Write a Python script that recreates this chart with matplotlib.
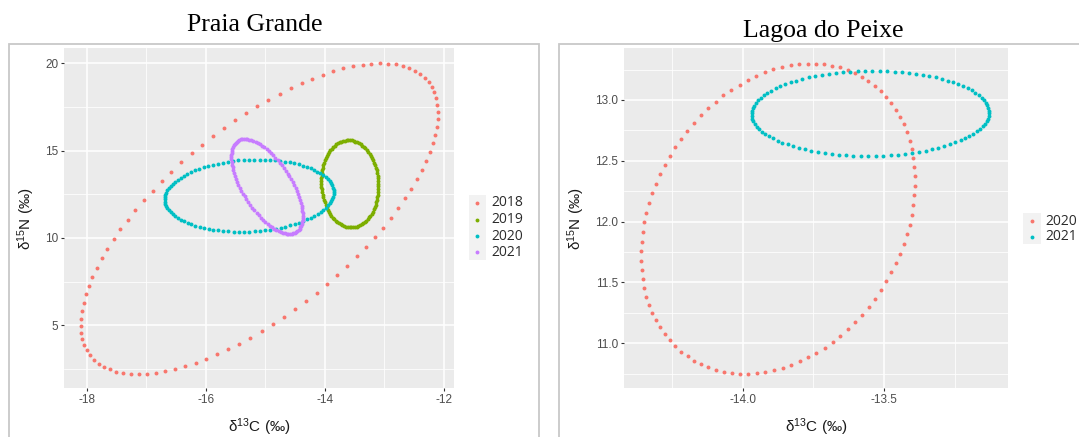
import numpy as np
import matplotlib
matplotlib.use("Agg")
import matplotlib.pyplot as plt
from matplotlib.patches import Rectangle

plt.rcParams['font.family'] = ['Liberation Sans', 'DejaVu Sans']
plt.rcParams['mathtext.fontset'] = 'custom'
plt.rcParams['mathtext.rm'] = 'Liberation Sans'
plt.rcParams['mathtext.it'] = 'Liberation Sans:italic'
plt.rcParams['axes.unicode_minus'] = False

# ---------------- data (ellipse parameters) ----------------
# Praia Grande
pg_years = ["2018", "2019", "2020", "2021"]
pg_cx = [-15.10, -13.58, -15.27, -14.97]     # centre d13C
pg_cy = [11.10, 13.10, 12.42, 12.95]         # centre d15N
pg_wx = [3.00, 0.48, 1.42, 0.60]             # half-extent along d13C
pg_wy = [8.90, 2.50, 2.07, 2.72]             # half-extent along d15N
pg_rho = [0.68, -0.05, 0.10, -0.63]          # correlation
pg_colors = ["#F8766D", "#7CAE00", "#00BFC4", "#C77CFF"]

# Lagoa do Peixe
lp_years = ["2020", "2021"]
lp_cx = [-13.875, -13.548]
lp_cy = [12.025, 12.890]
lp_wx = [0.485, 0.420]
lp_wy = [1.275, 0.350]
lp_rho = [0.24, 0.02]
lp_colors = ["#F8766D", "#00BFC4"]

n_pts = 100

pg_xticks = [-18, -16, -14, -12]
pg_xticklabels = ["-18", "-16", "-14", "-12"]
pg_yticks = [5, 10, 15, 20]
pg_yticklabels = ["5", "10", "15", "20"]
lp_xticks = [-14.0, -13.5]
lp_xticklabels = ["-14.0", "-13.5"]
lp_yticks = [11.0, 11.5, 12.0, 12.5, 13.0]
lp_yticklabels = ["11.0", "11.5", "12.0", "12.5", "13.0"]

W, H = 1079, 437


def ellipse_points(cx, cy, wx, wy, rho, n):
    cov = np.array([[wx * wx, rho * wx * wy], [rho * wx * wy, wy * wy]])
    vals, vecs = np.linalg.eigh(cov)
    t = np.linspace(0, 2 * np.pi, n, endpoint=False)
    circ = np.vstack([np.cos(t), np.sin(t)])
    pts = vecs @ (np.sqrt(vals)[:, None] * circ)
    return cx + pts[0], cy + pts[1]


def fx(x):
    return x / W


def fy(y):
    return 1 - y / H


fig = plt.figure(figsize=(W / 100, H / 100), dpi=100)

# panel borders
fig.patches.append(Rectangle((fx(8.5), fy(445)), fx(539) - fx(8.5), fy(43.5) - fy(445),
                             transform=fig.transFigure, fill=False, edgecolor="#C8C8C8",
                             linewidth=1.3, clip_on=False))
fig.patches.append(Rectangle((fx(559), fy(445)), fx(1090) - fx(559), fy(43.5) - fy(445),
                             transform=fig.transFigure, fill=False, edgecolor="#C8C8C8",
                             linewidth=1.3, clip_on=False))


def make_panel(rect, cxs, cys, wxs, wys, rhos, colors, xlim, ylim,
               xt, xtl, yt, ytl, xminor, yminor):
    ax = fig.add_axes(rect)
    ax.set_facecolor("#EBEBEB")
    for s in ax.spines.values():
        s.set_visible(False)
    for v in xminor:
        ax.axvline(v, color="white", lw=0.55, zorder=0.5)
    for v in yminor:
        ax.axhline(v, color="white", lw=0.55, zorder=0.5)
    for v in xt:
        ax.axvline(v, color="white", lw=1.1, zorder=0.6)
    for v in yt:
        ax.axhline(v, color="white", lw=1.1, zorder=0.6)
    for cx, cy, wx, wy, r, c in zip(cxs, cys, wxs, wys, rhos, colors):
        ex, ey = ellipse_points(cx, cy, wx, wy, r, n_pts)
        ax.scatter(ex, ey, s=8.0, color=c, linewidths=0, zorder=2)
    ax.set_xlim(*xlim)
    ax.set_ylim(*ylim)
    ax.set_xticks(xt)
    ax.set_xticklabels(xtl)
    ax.set_yticks(yt)
    ax.set_yticklabels(ytl)
    ax.tick_params(length=2.3, width=0.8, color="#333333", labelcolor="#4D4D4D",
                   labelsize=8.5, pad=2)
    ax.set_xlabel("δ$^{13}$C (‰)", fontsize=11, color="#1A1A1A", labelpad=7)
    ax.set_ylabel("δ$^{15}$N (‰)", fontsize=11, color="#1A1A1A", labelpad=6)
    return ax


ax1 = make_panel([fx(64.3), fy(388.3), fx(454) - fx(64.3), fy(48.3) - fy(388.3)],
                 pg_cx, pg_cy, pg_wx, pg_wy, pg_rho, pg_colors,
                 (-18.376, -11.83), (1.39, 20.86),
                 pg_xticks, pg_xticklabels, pg_yticks, pg_yticklabels,
                 [-17, -15, -13], [2.5, 7.5, 12.5, 17.5])
ax2 = make_panel([fx(624), fy(388.3), fx(1008.3) - fx(624), fy(48.3) - fy(388.3)],
                 lp_cx, lp_cy, lp_wx, lp_wy, lp_rho, lp_colors,
                 (-14.42, -13.06), (10.63, 13.425),
                 lp_xticks, lp_xticklabels, lp_yticks, lp_yticklabels,
                 [-14.25, -13.75, -13.25], [10.75, 11.25, 11.75, 12.25, 12.75, 13.25])

# titles
fig.text(fx(255), fy(31), "Praia Grande", ha="center", va="baseline",
         family="Liberation Serif", fontsize=18.5, color="black")
fig.text(fx(823), fy(37), "Lagoa do Peixe", ha="center", va="baseline",
         family="Liberation Serif", fontsize=18.5, color="black")


def legend(x_key, y_rows, labels, colors, bg_box):
    x0, y0, x1, y1 = bg_box
    fig.patches.append(Rectangle((fx(x0), fy(y1)), fx(x1) - fx(x0), fy(y0) - fy(y1),
                                 transform=fig.transFigure, facecolor="#F2F2F2",
                                 edgecolor="none"))
    for y, lab, c in zip(y_rows, labels, colors):
        fig.lines.append(plt.Line2D([fx(x_key)], [fy(y)], marker="o", markersize=2.8,
                                    markerfacecolor=c, markeredgewidth=0,
                                    linestyle="none", transform=fig.transFigure))
        fig.text(fx(x_key + 14), fy(y), lab, ha="left", va="center",
                 family=["Open Sans", "DejaVu Sans"], fontsize=10, color="#2B2B2B")


legend(477, [203, 219.5, 236, 252], pg_years, pg_colors, (469, 195, 485.5, 260))
legend(1031.7, [221, 236.5], lp_years, lp_colors, (1023, 213, 1040.5, 244))

fig.savefig("out.png", dpi=100)
